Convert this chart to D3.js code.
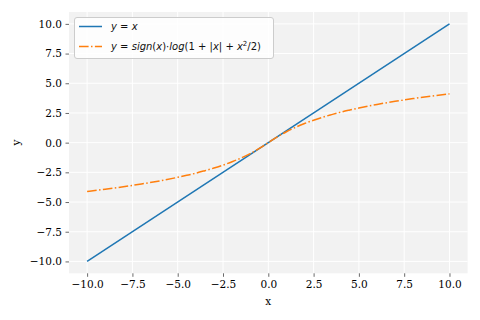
<!DOCTYPE html>
<html>
<head>
<meta charset="utf-8">
<script src="https://cdn.jsdelivr.net/npm/d3@7"></script>
<style>
body { margin: 0; background: #fff; }
svg text { font-family: "DejaVu Serif", serif; }
</style>
</head>
<body>
<script>
var width = 480;
var height = 320;

// values
var lineX = [-10, 10];
var lineY = [-10, 10];
var curveX = [-10, -9, -8, -7, -6, -5, -4.5, -4, -3.5, -3, -2.5, -2, -1.5, -1, -0.5, 0,
              0.5, 1, 1.5, 2, 2.5, 3, 3.5, 4, 4.5, 5, 6, 7, 8, 9, 10];
var curveY = [-4.11, -3.92, -3.71, -3.48, -3.22, -2.92, -2.75, -2.57, -2.36, -2.14, -1.89, -1.61, -1.29, -0.92, -0.49, 0,
              0.49, 0.92, 1.29, 1.61, 1.89, 2.14, 2.36, 2.57, 2.75, 2.92, 3.22, 3.48, 3.71, 3.92, 4.11];
var ticks = [-10, -7.5, -5, -2.5, 0, 2.5, 5, 7.5, 10];

var x = d3.scaleLinear().domain([-11, 11]).range([69, 467.6]);
var y = d3.scaleLinear().domain([-11, 11]).range([273.3, 12]);

var svg = d3.select("body")
	.append("svg")
	.attr("width", width)
	.attr("height", height);

svg.append("rect")
	.attr("x", x(-11))
	.attr("y", y(11))
	.attr("width", x(11) - x(-11))
	.attr("height", y(-11) - y(11))
	.style("fill", "#f2f2f2");

// grid
svg.append("g").selectAll("line").data(ticks).enter().append("line")
	.attr("x1", function(d) { return x(d); })
	.attr("x2", function(d) { return x(d); })
	.attr("y1", y(11)).attr("y2", y(-11))
	.style("stroke", "#fff").style("stroke-width", 1);
svg.append("g").selectAll("line").data(ticks).enter().append("line")
	.attr("y1", function(d) { return y(d); })
	.attr("y2", function(d) { return y(d); })
	.attr("x1", x(-11)).attr("x2", x(11))
	.style("stroke", "#fff").style("stroke-width", 1);

function fmt(d) { return d3.format(".1f")(d).replace("-", "\u2212"); }

var xAxis = svg.append("g")
	.attr("transform", "translate(0," + y(-11) + ")")
	.call(d3.axisBottom(x).tickValues(ticks).tickFormat(fmt).tickSize(3.5).tickPadding(3.5));
var yAxis = svg.append("g")
	.attr("transform", "translate(" + x(-11) + ",0)")
	.call(d3.axisLeft(y).tickValues(ticks).tickFormat(fmt).tickSize(3.5).tickPadding(3.5));
[xAxis, yAxis].forEach(function(a) {
	a.select(".domain").remove();
	a.selectAll(".tick line").style("stroke", "#444").style("stroke-width", 0.8);
	a.selectAll(".tick text").style("font-family", "DejaVu Serif").style("font-size", "10.5px").style("fill", "#000");
});

svg.append("text")
	.attr("x", (x(-11) + x(11)) / 2)
	.attr("y", 305)
	.attr("text-anchor", "middle")
	.style("font-size", "10.5px")
	.text("x");
svg.append("text")
	.attr("transform", "translate(20," + ((y(11) + y(-11)) / 2) + ") rotate(-90)")
	.attr("text-anchor", "middle")
	.style("font-size", "10.5px")
	.text("y");

var line = d3.line()
	.x(function(d) { return x(d[0]); })
	.y(function(d) { return y(d[1]); });

svg.append("path")
	.datum(d3.zip(lineX, lineY))
	.attr("d", line)
	.style("fill", "none").style("stroke", "#1f77b4").style("stroke-width", 1.5);

svg.append("path")
	.datum(d3.zip(curveX, curveY))
	.attr("d", line.curve(d3.curveMonotoneX))
	.style("fill", "none").style("stroke", "#ff7f0e").style("stroke-width", 1.5)
	.style("stroke-dasharray", "9.6,2.4,1.5,2.4");

// legend
var lg = svg.append("g");
lg.append("rect")
	.attr("x", 74.5).attr("y", 17.5).attr("width", 199).attr("height", 41)
	.attr("rx", 2.5)
	.style("fill", "#fff").style("fill-opacity", 0.8)
	.style("stroke", "#ccc").style("stroke-width", 1);

var entries = [
	{ color: "#1f77b4", dash: null, parts: [["y", true], [" = ", false], ["x", true]] },
	{ color: "#ff7f0e", dash: "9.6,2.4,1.5,2.4", parts: [["y", true], [" = ", false], ["sign", true], ["(", false], ["x", true], [")\u00b7", false],
		["log", true], ["(1 + |", false], ["x", true], ["| + ", false], ["x", true], ["2", false, true], ["/2)", false]] }
];
entries.forEach(function(e, i) {
	var cy = 26.5 + i * 20;
	lg.append("line")
		.attr("x1", 79).attr("x2", 102).attr("y1", cy).attr("y2", cy)
		.style("stroke", e.color).style("stroke-width", 1.5)
		.style("stroke-dasharray", e.dash);
	var t = lg.append("text")
		.attr("x", 111).attr("y", cy + 3.7)
		.style("font-family", "DejaVu Sans").style("font-size", "10px").style("fill", "#111");
	e.parts.forEach(function(p) {
		var s = t.append("tspan").text(p[0]).style("font-style", p[1] ? "italic" : "normal");
		if (p[2]) {
			s.attr("dy", -4).style("font-size", "7px");
		}
	});
	t.selectAll("tspan").each(function(d, j) {
		if (j > 0 && e.parts[j - 1][2]) d3.select(this).attr("dy", 4);
	});
});
</script>
</body>
</html>
